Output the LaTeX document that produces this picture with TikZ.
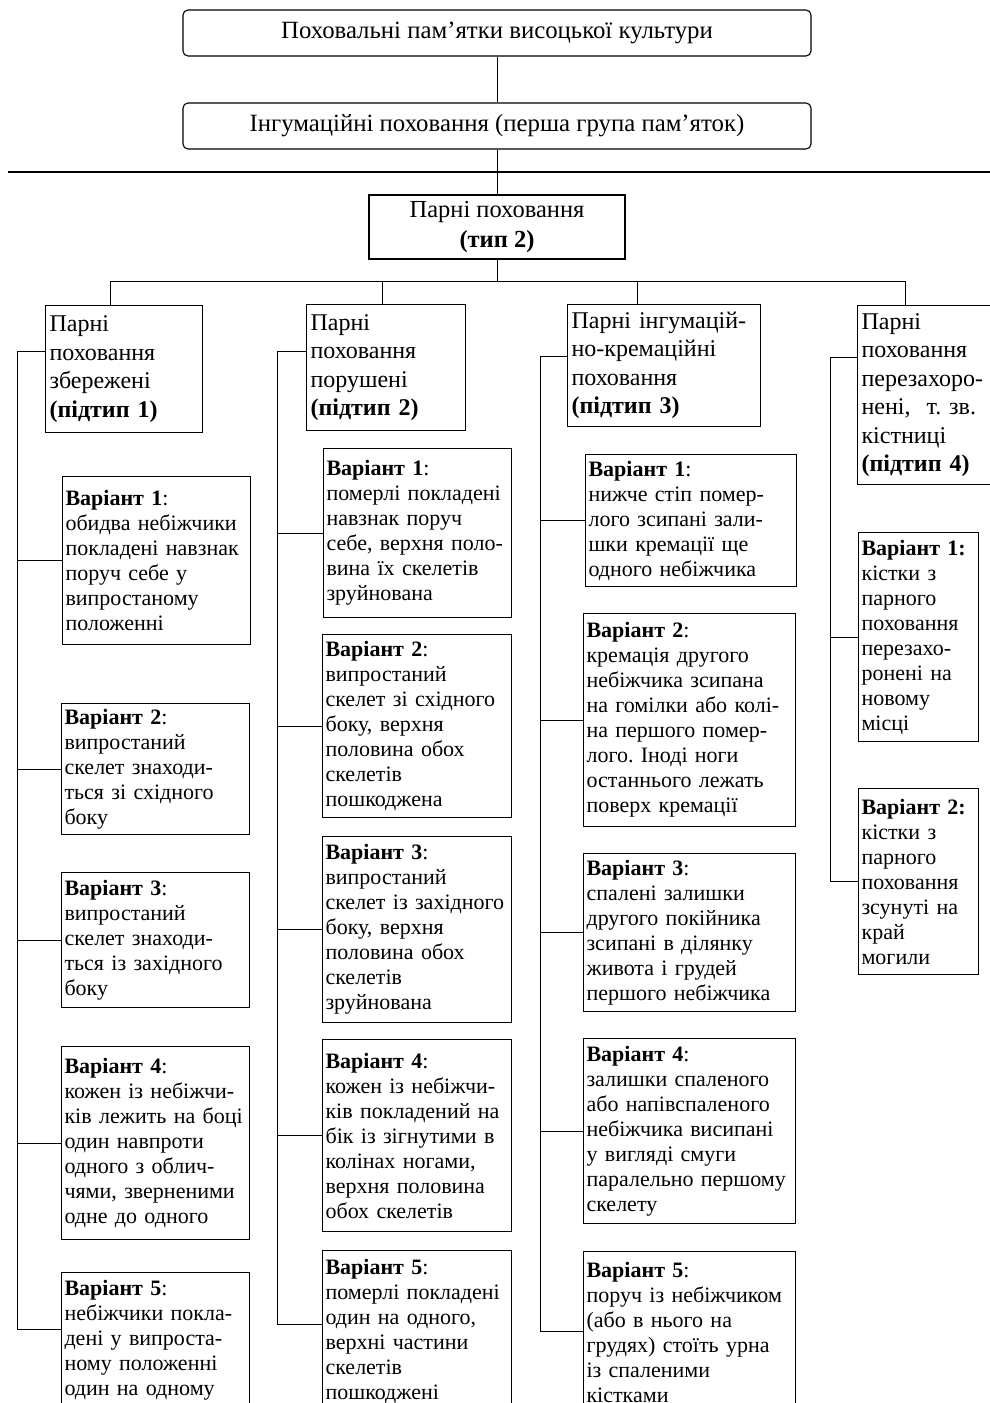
\documentclass[tikz,border=0pt]{standalone}
\usepackage{fontspec}
\setmainfont{Liberation Serif}
\frenchspacing
\usetikzlibrary{positioning}
\tikzset{
    topbox/.style={draw, line width=1.1pt, rounded corners=5pt, minimum width=628pt, minimum height=46pt, font=\fontsize{24.8}{28}\selectfont},
    typebox/.style={draw, line width=1.1pt, align=center, minimum width=256pt, minimum height=64pt, font=\fontsize{24.5}{30}\selectfont},
    subbox/.style={draw, line width=1.1pt, anchor=north west, align=left, inner xsep=4pt, inner ysep=2pt, font=\fontsize{24}{28.5}\selectfont},
    varbox/.style={draw, line width=1.1pt, anchor=north west, align=left, inner xsep=3pt, inner ysep=2pt, font=\fontsize{22}{25}\selectfont},
    link/.style={line width=0.9pt}
}

\begin{document}
\begin{tikzpicture}[x=1pt, y=-1pt]
    \useasboundingbox (0,0) rectangle (990,1403);
    \clip (0,0) rectangle (990,1403);

    % Верхні блоки
    \node[topbox] (t0) at (497,33) {Поховальні пам’ятки висоцької культури};
    \node[topbox] (t1) at (497,126) {Інгумаційні поховання (перша група пам’яток)};
    \node[typebox] (t2) at (497,227) {Парні поховання\\\textbf{(тип 2)}};
    \draw[link] (t0) -- (t1);
    \draw[link] (t1) -- (t2);
    \draw[line width=1.2pt] (8,172) -- (990,172);

    % Підтипи
    \node[subbox, text width=149pt, minimum height=127pt] (s1) at (45,305) {Парні\\поховання\\збережені\\\textbf{(підтип 1)}};
    \node[subbox, text width=151pt, minimum height=126pt] (s2) at (306,304) {Парні\\поховання\\порушені\\\textbf{(підтип 2)}};
    \node[subbox, text width=185pt, minimum height=122pt] (s3) at (567,304) {Парні інгумацій-\\но-кремаційні\\поховання\\\textbf{(підтип 3)}};
    \node[subbox, text width=142pt, minimum height=179pt] (s4) at (857,305) {Парні\\поховання\\перезахоро-\\нені,~ т. зв.\\кістниці\\\textbf{(підтип 4)}};

    \coordinate (d1) at (110,281);
    \coordinate (d2) at (382,281);
    \coordinate (d3) at (637,281);
    \coordinate (d4) at (905,281);
    \draw[link] (t2) -- (t2 |- d1);
    \draw[link] (d1) -- (d4);
    \foreach \i in {1,...,4}
        \draw[link] (d\i) -- (d\i |- s\i.north);

    % Варіанти: підтип 1
    \node[varbox, text width=182pt, minimum height=168pt] (v11) at (62,476) {\textbf{Варіант 1}:\\обидва небіжчики\\покладені навзнак\\поруч себе у\\випростаному\\положенні};
    \node[varbox, text width=182pt, minimum height=131pt] (v12) at (61,703) {\textbf{Варіант 2}:\\випростаний\\скелет знаходи-\\ться зі східного\\боку};
    \node[varbox, text width=182pt, minimum height=135pt] (v13) at (61,872) {\textbf{Варіант 3}:\\випростаний\\скелет знаходи-\\ться із західного\\боку};
    \node[varbox, text width=182pt, minimum height=193pt] (v14) at (61,1046) {\textbf{Варіант 4}:\\кожен із небіжчи-\\ків лежить на боці\\один навпроти\\одного з облич-\\чями, зверненими\\одне до одного};
    \node[varbox, text width=182pt, minimum height=136pt] (v15) at (61,1272) {\textbf{Варіант 5}:\\небіжчики покла-\\дені у випроста-\\ному положенні\\один на одному};

    % Варіанти: підтип 2
    \node[varbox, text width=182pt, minimum height=169pt] (v21) at (323,448) {\textbf{Варіант 1}:\\померлі покладені\\навзнак поруч\\себе, верхня поло-\\вина їх скелетів\\зруйнована};
    \node[varbox, text width=183pt, minimum height=183pt] (v22) at (322,634) {\textbf{Варіант 2}:\\випростаний\\скелет зі східного\\боку, верхня\\половина обох\\скелетів\\пошкоджена};
    \node[varbox, text width=183pt, minimum height=186pt] (v23) at (322,836) {\textbf{Варіант 3}:\\випростаний\\скелет із західного\\боку, верхня\\половина обох\\скелетів\\зруйнована};
    \node[varbox, text width=183pt, minimum height=192pt] (v24) at (322,1039) {\textbf{Варіант 4}:\\кожен із небіжчи-\\ків покладений на\\бік із зігнутими в\\колінах ногами,\\верхня половина\\обох скелетів};
    \node[varbox, text width=183pt, minimum height=161pt] (v25) at (322,1250) {\textbf{Варіант 5}:\\померлі покладені\\один на одного,\\верхні частини\\скелетів\\пошкоджені};

    % Варіанти: підтип 3
    \node[varbox, text width=205pt, minimum height=132pt] (v31) at (585,454) {\textbf{Варіант 1}:\\нижче стіп помер-\\лого зсипані зали-\\шки кремації ще\\одного небіжчика};
    \node[varbox, text width=206pt, minimum height=213pt] (v32) at (583,613) {\textbf{Варіант 2}:\\кремація другого\\небіжчика зсипана\\на гомілки або колі-\\на першого помер-\\лого. Іноді ноги\\останнього лежать\\поверх кремації};
    \node[varbox, text width=206pt, minimum height=158pt] (v33) at (583,853) {\textbf{Варіант 3}:\\спалені залишки\\другого покійника\\зсипані в ділянку\\живота і грудей\\першого небіжчика};
    \node[varbox, text width=206pt, minimum height=185pt] (v34) at (583,1038) {\textbf{Варіант 4}:\\залишки спаленого\\або напівспаленого\\небіжчика висипані\\у вигляді смуги\\паралельно першому\\скелету};
    \node[varbox, text width=206pt, minimum height=161pt] (v35) at (583,1251) {\textbf{Варіант 5}:\\поруч із небіжчиком\\(або в нього на\\грудях) стоїть урна\\із спаленими\\кістками};

    % Варіанти: підтип 4
    \node[varbox, text width=114pt, minimum height=209pt] (v41) at (858,532) {\textbf{Варіант 1:}\\кістки з\\парного\\поховання\\перезахо-\\ронені на\\новому\\місці};
    \node[varbox, text width=114pt, minimum height=186pt] (v42) at (858,788) {\textbf{Варіант 2:}\\кістки з\\парного\\поховання\\зсунуті на\\край\\могили};

    % Бічні лінії
    \coordinate (sp1) at (17,351);
    \coordinate (sp2) at (277,351);
    \coordinate (sp3) at (540,356);
    \coordinate (sp4) at (830,357);
    \coordinate (b15) at (61,1329);
    \coordinate (b25) at (322,1324);
    \coordinate (b35) at (583,1331);

    \draw[link] (s1.west |- sp1) -- (sp1) |- (b15);
    \draw[link] (s2.west |- sp2) -- (sp2) |- (b25);
    \draw[link] (s3.west |- sp3) -- (sp3) |- (b35);
    \draw[link] (s4.west |- sp4) -- (sp4) |- (v42.west);
    \foreach \c in {1,2,3}
        \foreach \j in {1,...,4}
            \draw[link] (v\c\j.west) -- (v\c\j.west -| sp\c);
    \draw[link] (v41.west) -- (v41.west -| sp4);
\end{tikzpicture}
\end{document}
